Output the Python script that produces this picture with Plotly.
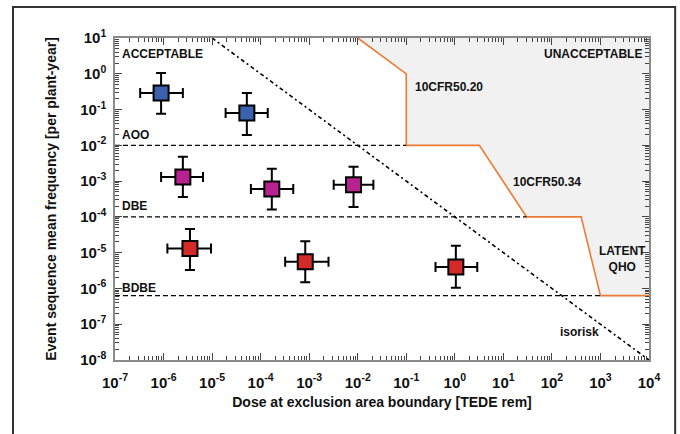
import numpy as np
import plotly.graph_objects as go

# ---- data ----
groups = ["blue", "blue", "magenta", "magenta", "magenta", "red", "red", "red"]
dose = [8.9e-7, 5.2e-5, 2.5e-6, 1.7e-4, 8.2e-3, 3.5e-6, 8.3e-4, 1.05]
dose_lo = [3.3e-7, 1.9e-5, 8.9e-7, 6.3e-5, 3.2e-3, 1.2e-6, 3.2e-4, 0.40]
dose_hi = [2.5e-6, 1.4e-4, 6.5e-6, 4.7e-4, 2.1e-2, 9.5e-6, 2.5e-3, 2.9]
freq = [0.29, 0.08, 1.3e-3, 6.0e-4, 7.9e-4, 1.3e-5, 5.6e-6, 4.0e-6]
freq_lo = [0.076, 0.0195, 3.6e-4, 1.6e-4, 1.9e-4, 3.3e-6, 1.5e-6, 1.05e-6]
freq_hi = [1.05, 0.29, 4.8e-3, 2.2e-3, 2.5e-3, 4.6e-5, 2.1e-5, 1.55e-5]
group_colors = {"blue": "#3d62ad", "magenta": "#b82190", "red": "#d42a2a"}

# category boundaries (frequency levels)
aoo_level = 1e-2
dbe_level = 1e-4
bdbe_level = 6.3e-7
aoo_end = 0.1
dbe_end = 30
bdbe_end = 1000

# regulatory limit line (dose, frequency)
limit_dose = [1e-2, 1e-1, 1e-1, 3.2, 30, 400, 1000, 1e4]
limit_freq = [10, 1, 1e-2, 1e-2, 1e-4, 1e-4, 6.3e-7, 6.3e-7]

# isorisk line
iso_dose = [1e-5, 1e4]
iso_freq = [10, 1e-8]

x_range = [-7, 4]
y_range = [-8, 1]
x_ticks = [10.0 ** e for e in range(-7, 5)]
x_ticktext = [f"10<sup>{e}</sup>" for e in range(-7, 5)]
y_ticks = [10.0 ** e for e in range(-8, 2)]
y_ticktext = [f"10<sup>{e}</sup>" for e in range(-8, 2)]

FONT = "Liberation Sans, Arial, sans-serif"

fig = go.Figure()

# unacceptable region fill
fig.add_trace(go.Scatter(
    x=limit_dose + [1e4, 1e-2], y=limit_freq + [10, 10],
    mode="lines", fill="toself", fillcolor="#f1f1f1",
    line=dict(width=0), hoverinfo="skip", showlegend=False))
# orange limit line
fig.add_trace(go.Scatter(
    x=limit_dose, y=limit_freq, mode="lines",
    line=dict(color="#ec7b35", width=1.6), showlegend=False))

# category dashed lines
for lvl, end in [(aoo_level, aoo_end), (dbe_level, dbe_end), (bdbe_level, bdbe_end)]:
    fig.add_trace(go.Scatter(
        x=[1e-7, end], y=[lvl, lvl], mode="lines",
        line=dict(color="black", width=1.4, dash="5px,3px"), showlegend=False))

# isorisk
fig.add_trace(go.Scatter(
    x=iso_dose, y=iso_freq, mode="lines",
    line=dict(color="black", width=1.6, dash="4px,3px,2px,3px"), showlegend=False))

# points with error bars
for i in range(len(dose)):
    fig.add_trace(go.Scatter(
        x=[dose[i]], y=[freq[i]], mode="markers",
        marker=dict(symbol="square", size=15, color=group_colors[groups[i]],
                    line=dict(color="black", width=2)),
        error_x=dict(type="data", symmetric=False,
                     array=[dose_hi[i] - dose[i]], arrayminus=[dose[i] - dose_lo[i]],
                     color="black", thickness=2, width=5),
        error_y=dict(type="data", symmetric=False,
                     array=[freq_hi[i] - freq[i]], arrayminus=[freq[i] - freq_lo[i]],
                     color="black", thickness=2, width=5),
        showlegend=False))

def label(text, x, y, xanchor="left", align="left"):
    fig.add_annotation(
        x=x, y=y, xref="x", yref="y", text=text, showarrow=False,
        xanchor=xanchor, yanchor="middle", align=align,
        font=dict(family=FONT, size=12, color="#111", weight="bold"))

label("ACCEPTABLE", -6.89, 0.55)
label("UNACCEPTABLE", 3.89, 0.55, xanchor="right")
label("10CFR50.20", -0.87, -0.37)
label("10CFR50.34", 1.15, -3.02)
label("LATENT<br>QHO", 3.45, -5.17, xanchor="center", align="center")
label("isorisk", 2.12, -7.21)
label("AOO", -6.9, -1.71)
label("DBE", -6.9, -3.69)
label("BDBE", -6.9, -5.98)

# outer frame
fig.add_shape(type="rect", xref="paper", yref="paper",
              x0=-0.191, x1=1.049, y0=-0.26, y1=1.096,
              line=dict(color="#333", width=2), layer="above")

axis_common = dict(
    type="log", showgrid=False, zeroline=False,
    showline=True, linecolor="#8a8a8a", linewidth=1.5, mirror="ticks",
    ticks="inside", ticklen=7, tickwidth=1, tickcolor="#444",
    tickfont=dict(family=FONT, size=15, color="#111", weight="bold"),
)

x_minor = [m * 10.0 ** e for e in range(-7, 4) for m in range(2, 10)]
y_minor = [m * 10.0 ** e for e in range(-8, 1) for m in range(2, 10)]

fig.update_xaxes(
    **axis_common, range=x_range, tickvals=x_ticks, ticktext=x_ticktext,
    ticklabelstandoff=8,
    minor=dict(tickvals=x_minor, ticks="inside", ticklen=4, tickcolor="#444", showgrid=False),
    title=dict(text="Dose at exclusion area boundary [TEDE rem]", standoff=7,
               font=dict(family=FONT, size=14, color="#111", weight="bold")))
fig.update_yaxes(
    **axis_common, range=y_range, tickvals=y_ticks, ticktext=y_ticktext,
    ticklabelstandoff=4,
    minor=dict(tickvals=y_minor, ticks="inside", ticklen=4, tickcolor="#444", showgrid=False),
    title=dict(text="Event sequence mean frequency [per plant-year]", standoff=20,
               font=dict(family=FONT, size=14, color="#111", weight="bold")))

fig.update_layout(
    width=680, height=434,
    margin=dict(l=115, r=31, t=38, b=74),
    paper_bgcolor="white", plot_bgcolor="white",
    showlegend=False,
)

fig.write_html("out.html", config={"displayModeBar": False},
               post_script="document.body.style.margin='0';")
